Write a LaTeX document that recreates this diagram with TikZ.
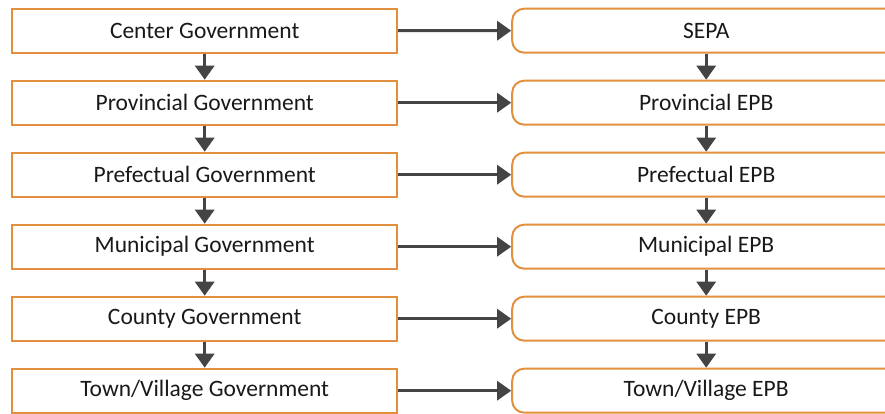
\documentclass[tikz,border=0pt]{standalone}
\usepackage{fontspec}
\setmainfont{Carlito}
\usetikzlibrary{matrix,arrows.meta}
\definecolor{boxorange}{HTML}{E2903E}
\definecolor{arrowgray}{HTML}{444444}
\tikzset{
  govbox/.style={draw=boxorange, line width=2pt, minimum width=385pt, minimum height=44pt, inner sep=0pt},
  epbbox/.style={govbox, minimum width=388pt, rounded corners=12pt},
  flow/.style={-{Triangle[length=14pt,width=19pt]}, draw=arrowgray, line width=3pt},
}

\begin{document}
\begin{tikzpicture}[x=1pt,y=-1pt]
      \clip (0,0) rectangle (885,414);
      \fontsize{23.5}{28}\selectfont
      \matrix[matrix of nodes, nodes={text=black!90}, column sep=113pt, row sep=26pt, inner sep=0pt, anchor=north west] (diagram) at (11,7.5) {
        |[govbox](cgov)| Center Government & |[epbbox](sepa)| SEPA \\
        |[govbox](pgov)| Provincial Government & |[epbbox](pepb)| Provincial EPB \\
        |[govbox](fgov)| Prefectual Government & |[epbbox](fepb)| Prefectual EPB \\
        |[govbox](mgov)| Municipal Government & |[epbbox](mepb)| Municipal EPB \\
        |[govbox](ygov)| County Government & |[epbbox](yepb)| County EPB \\
        |[govbox](tgov)| Town/Village Government & |[epbbox](tepb)| Town/Village EPB \\
      };
      % government -> agency
      \foreach \g/\e in {cgov/sepa, pgov/pepb, fgov/fepb, mgov/mepb, ygov/yepb, tgov/tepb}
        \draw[flow] (\g) -- (\e);
      % down the levels
      \foreach \u/\d in {cgov/pgov, pgov/fgov, fgov/mgov, mgov/ygov, ygov/tgov,
                         sepa/pepb, pepb/fepb, fepb/mepb, mepb/yepb, yepb/tepb}
        \draw[flow] (\u) -- (\d);
\end{tikzpicture}
\end{document}
